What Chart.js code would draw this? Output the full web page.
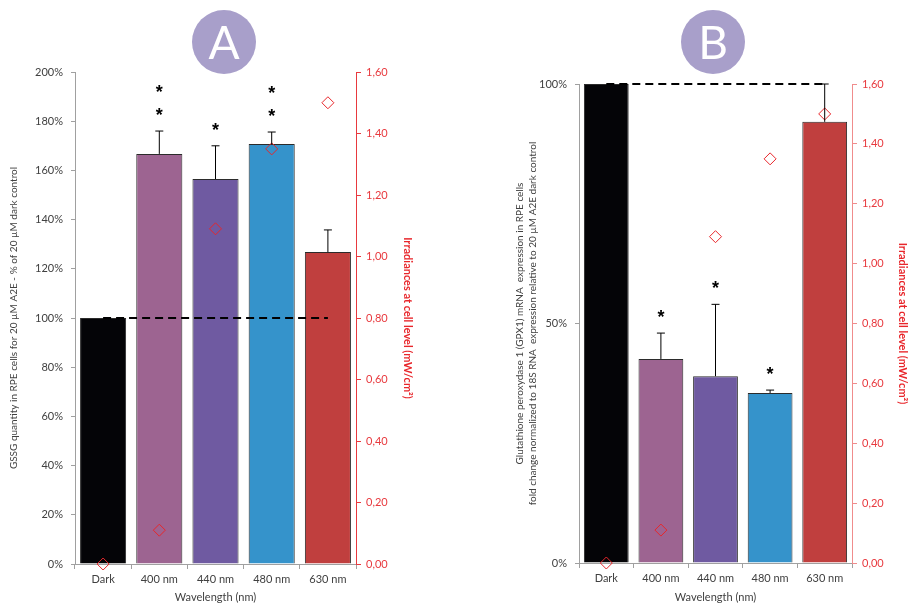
<!DOCTYPE html>
<html>
<head>
<meta charset="utf-8">
<script src="https://cdn.jsdelivr.net/npm/chart.js@4"></script>
<style>
  body { margin: 0; background: #fff; width: 909px; height: 605px; position: relative; overflow: hidden; }
  canvas { position: absolute; top: 0; }
  #chartA { left: 0; }
  #chartB { left: 500px; }
</style>
</head>
<body>
<canvas id="chartA" width="420" height="605"></canvas>
<canvas id="chartB" width="409" height="605"></canvas>
<script>
// Shared categories / colours
const categories = ['Dark', '400 nm', '440 nm', '480 nm', '630 nm'];
const barColors = ['#040407', '#9d6491', '#6f5aa1', '#3593cb', '#c03f3e'];
const irradiance = [0, 0.11, 1.09, 1.35, 1.50]; // mW/cm²

// Panel A - GSSG
const gssgValues = [100, 166.7, 156.5, 170.7, 126.8];
const gssgErrors = [0, 9.3, 13.5, 4.9, 9.0];
const gssgStars = [0, 2, 1, 2, 0];
const gssgTicks = [0, 20, 40, 60, 80, 100, 120, 140, 160, 180, 200];

// Panel B - GPX1 mRNA
const gpxValues = [100, 42.6, 39.0, 35.5, 92.1];
const gpxErrors = [0, 5.4, 15.0, 0.6, 7.9];
const gpxStars = [0, 1, 1, 1, 0];
const gpxTicks = [0, 50, 100];

const irrTicks = [0, 0.2, 0.4, 0.6, 0.8, 1.0, 1.2, 1.4, 1.6];
const controlLevel = [100, 100, 100, 100, 100];

Chart.defaults.font.family = 'Lato, "Open Sans", sans-serif';
Chart.defaults.font.size = 11;
Chart.defaults.color = '#404040';

// error bars + significance stars, drawn on top of the bars
const errorStarsPlugin = {
    id: 'errorStars',
    afterDatasetsDraw(chart, args, opts) {
        const ctx = chart.ctx;
        const meta = chart.getDatasetMeta(0);
        const y = chart.scales.y;
        ctx.save();
        meta.data.forEach((bar, i) => {
            const val = opts.values[i];
            const err = opts.errors[i];
            const top = y.getPixelForValue(val + err);
            if (err > 0) {
                ctx.strokeStyle = '#000';
                ctx.lineWidth = 1;
                ctx.beginPath();
                ctx.moveTo(bar.x, y.getPixelForValue(val));
                ctx.lineTo(bar.x, top);
                ctx.moveTo(bar.x - 4, top);
                ctx.lineTo(bar.x + 4, top);
                ctx.stroke();
            }
            ctx.fillStyle = '#000';
            ctx.font = 'bold 18px "Liberation Sans", sans-serif';
            ctx.textAlign = 'center';
            ctx.textBaseline = 'middle';
            for (let k = 0; k < opts.stars[i]; k++) {
                ctx.fillText('*', bar.x, top - 15 - k * 23);
            }
        });
        ctx.restore();
    }
};

// purple panel letter
const badgePlugin = {
    id: 'badge',
    afterDraw(chart, args, opts) {
        const ctx = chart.ctx;
        ctx.save();
        ctx.fillStyle = '#a89fca';
        ctx.beginPath();
        ctx.arc(opts.x, opts.y, 32, 0, Math.PI * 2);
        ctx.fill();
        ctx.fillStyle = '#fff';
        ctx.font = '46px Lato, sans-serif';
        ctx.textAlign = 'center';
        ctx.textBaseline = 'middle';
        ctx.fillText(opts.letter, opts.x, opts.y + 2);
        ctx.restore();
    }
};

function makePanel(canvasId, cfg) {
    const ctx = document.getElementById(canvasId).getContext('2d');
    return new Chart(ctx, {
        data: {
            labels: categories,
            datasets: [
                {
                    type: 'bar',
                    data: cfg.values,
                    backgroundColor: barColors,
                    borderColor: '#2b2b2b',
                    borderWidth: 1,
                    barPercentage: 0.82,
                    categoryPercentage: 1,
                    yAxisID: 'y',
                    order: 3
                },
                {
                    type: 'line',
                    data: controlLevel,
                    borderColor: '#000',
                    borderWidth: 2,
                    borderDash: [8, 5],
                    pointRadius: 0,
                    fill: false,
                    clip: false,
                    yAxisID: 'y',
                    order: 2
                },
                {
                    type: 'line',
                    data: irradiance,
                    showLine: false,
                    pointStyle: 'rectRot',
                    pointRadius: 6,
                    pointBorderColor: '#e8262b',
                    pointBackgroundColor: 'rgba(0,0,0,0)',
                    pointBorderWidth: 1,
                    clip: false,
                    yAxisID: 'y1',
                    order: 1
                }
            ]
        },
        options: {
            responsive: false,
            animation: false,
            events: [],
            layout: { padding: { top: cfg.top, left: 0, right: 0, bottom: 0 } },
            plugins: {
                legend: { display: false },
                tooltip: { enabled: false },
                errorStars: { values: cfg.values, errors: cfg.errors, stars: cfg.stars },
                badge: { x: cfg.badgeX, y: 42, letter: cfg.letter }
            },
            scales: {
                x: {
                    offset: true,
                    grid: { offset: true, drawOnChartArea: false, tickLength: 5, color: '#a0a0a0' },
                    border: { color: '#a0a0a0' },
                    ticks: { padding: 4, color: '#404040' },
                    title: { display: true, text: 'Wavelength (nm)', color: '#404040', padding: { top: 0, bottom: 1 } },
                    afterFit: (s) => { s.height = cfg.xHeight; }
                },
                y: {
                    position: 'left',
                    min: 0,
                    max: cfg.yMax,
                    afterBuildTicks: (s) => { s.ticks = cfg.yTicks.map(v => ({ value: v })); },
                    grid: { drawOnChartArea: false, tickLength: 4, color: '#a0a0a0' },
                    border: { color: '#a0a0a0' },
                    ticks: { padding: 8, color: '#404040', callback: (v) => v + '%' },
                    title: {
                        display: true,
                        text: cfg.yTitle,
                        color: '#404040',
                        font: { size: 10, lineHeight: 1.3 },
                        padding: { top: cfg.yTitlePad, bottom: 0 }
                    },
                    afterFit: (s) => { s.width = cfg.leftWidth; }
                },
                y1: {
                    position: 'right',
                    min: 0,
                    max: 1.6,
                    afterBuildTicks: (s) => { s.ticks = irrTicks.map(v => ({ value: v })); },
                    grid: { drawOnChartArea: false, tickLength: 5, color: cfg.irrAxisColor },
                    border: { color: cfg.irrAxisColor },
                    ticks: { padding: 5, color: '#e8393e', callback: (v) => v.toFixed(2).replace('.', ',') },
                    title: {
                        display: true,
                        text: 'Irradiances at cell level (mW/cm²)',
                        color: '#e8262b',
                        font: { weight: 'bold' },
                        padding: { top: cfg.irrTitlePad, bottom: 0 }
                    },
                    afterFit: (s) => { s.width = cfg.rightWidth; }
                }
            }
        },
        plugins: [errorStarsPlugin, badgePlugin]
    });
}

makePanel('chartA', {
    values: gssgValues, errors: gssgErrors, stars: gssgStars,
    yMax: 200, yTicks: gssgTicks,
    yTitle: 'GSSG quantity in RPE cells for 20 µM A2E - % of 20 µM dark control',
    yTitlePad: 7, leftWidth: 75, rightWidth: 64, irrTitlePad: 6,
    irrAxisColor: '#e8393e', top: 72, xHeight: 41,
    badgeX: 224, letter: 'A'
});

makePanel('chartB', {
    values: gpxValues, errors: gpxErrors, stars: gpxStars,
    yMax: 100, yTicks: gpxTicks,
    yTitle: ['Glutathione peroxydase 1 (GPX1) mRNA  expression in RPE cells',
             'fold change normalized to 18S RNA  expression relative to 20 µM A2E dark control'],
    yTitlePad: 13, leftWidth: 79, rightWidth: 57, irrTitlePad: 0,
    irrAxisColor: '#f08c8c', top: 84, xHeight: 42,
    badgeX: 213, letter: 'B'
});
</script>
</body>
</html>
